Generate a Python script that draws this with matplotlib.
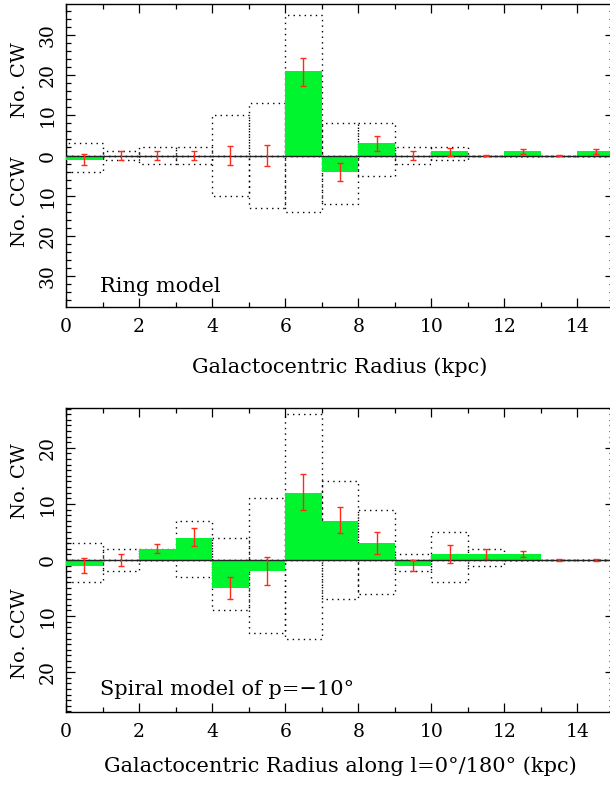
import matplotlib
matplotlib.use("Agg")
import matplotlib.pyplot as plt
import numpy as np
from matplotlib.ticker import MultipleLocator, FuncFormatter

# ---------------- data ----------------
bins_left = np.arange(0, 15)          # 1-kpc bins from 0 to 15 kpc

# Ring model (top panel)
ring_net = [-1, 0, 0, 0, 0, 0, 21, -4, 3, 0, 1, 0, 1, 0, 1]
ring_err_center = [-1.05, 0, 0, 0, 0, 0, 20.85, -4, 2.95, 0, 0.95, 0, 1, 0, 1]
ring_err = [1.35, 1.0, 1.1, 1.1, 2.3, 2.6, 3.55, 2.25, 1.85, 1.0, 0.95, 0.1, 0.6, 0.1, 0.6]
ring_cw = [3, 1, 2, 2, 10, 13, 35, 8, 8, 2, 2, 0, 0, 0, 0]
ring_ccw = [4, 1, 2, 2, 10, 13, 14, 12, 5, 2, 1, 0, 0, 0, 0]

# Spiral model p=-10 (bottom panel)
spiral_net = [-1, 0, 2, 4, -5, -2, 12, 7, 3, -1, 1, 1, 1, 0, 0]
spiral_err_center = [-0.95, 0.05, 2.1, 4.1, -5.0, -1.95, 12.1, 7.1, 3.05, -0.95, 1.04, 1.07, 1.05, 0, 0]
spiral_err = [1.37, 1.05, 0.77, 1.6, 1.9, 2.47, 3.2, 2.35, 1.96, 0.98, 1.58, 0.9, 0.5, 0.1, 0.1]
spiral_cw = [3, 2, 2, 7, 4, 11, 26, 14, 9, 1, 5, 2, 0, 0, 0]
spiral_ccw = [4, 2, 0, 3, 9, 13, 14, 7, 6, 2, 4, 1, 0, 0, 0]

xticks = [0, 2, 4, 6, 8, 10, 12, 14]

GREEN = "#00f52e"
RED = "#ff2a1a"
FONT = "DejaVu Serif"

W, H = 610, 785
fig = plt.figure(figsize=(W / 100, H / 100), dpi=100)


def make_panel(rect_px, net, ec, err, cw, ccw, ylim, ymajor, yminor, label, xlabel, label_y, lpad):
    x0, y0, x1, y1 = rect_px
    ax = fig.add_axes([x0 / W, 1 - y1 / H, (x1 - x0) / W, (y1 - y0) / H])
    centers = bins_left + 0.5
    ax.bar(centers, cw, width=1.0, fill=False, edgecolor="black", linestyle=(0, (1, 3)), linewidth=1.0, zorder=2)
    ax.bar(centers, -np.array(ccw), width=1.0, fill=False, edgecolor="black", linestyle=(0, (1, 3)), linewidth=1.0, zorder=2)
    ax.bar(centers, net, width=1.0, color=GREEN, edgecolor="none", zorder=3)
    ax.axhline(0, color="#222222", linewidth=1.0, zorder=4)
    ax.errorbar(centers, ec, yerr=err, fmt="none", ecolor=RED, elinewidth=1.0, capsize=2.5, capthick=1.0, zorder=5)
    ax.set_xlim(0, 15)
    ax.set_ylim(-ylim, ylim)
    ax.xaxis.set_major_locator(MultipleLocator(2))
    ax.xaxis.set_minor_locator(MultipleLocator(1))
    ax.yaxis.set_major_locator(MultipleLocator(ymajor))
    ax.yaxis.set_minor_locator(MultipleLocator(yminor))
    ax.set_xticks(xticks)
    ax.yaxis.set_major_formatter(FuncFormatter(lambda v, p: "%d" % abs(round(v))))
    ax.tick_params(which="both", direction="in", top=True, right=True, labelsize=13.5)
    ax.tick_params(which="major", length=6.5, width=0.9)
    ax.tick_params(which="minor", length=3.5, width=0.9)
    ax.tick_params(axis="x", pad=8)
    ax.tick_params(axis="y", pad=7)
    for t in ax.get_yticklabels():
        t.set_rotation(90)
        t.set_va("center")
        t.set_family(FONT)
    for t in ax.get_xticklabels():
        t.set_family(FONT)
    for s in ax.spines.values():
        s.set_linewidth(1.0)
    ax.text(0.062, label_y, label, transform=ax.transAxes, fontsize=15, family=FONT, ha="left", va="baseline")
    ax.set_xlabel(xlabel, fontsize=15, family=FONT, labelpad=lpad)
    return ax


ax1 = make_panel((66, 4, 614, 307), ring_net, ring_err_center, ring_err, ring_cw, ring_ccw,
                 37.8, 10, 2, "Ring model", "Galactocentric Radius (kpc)", 0.048, 15)
ax2 = make_panel((66, 408, 614, 712), spiral_net, spiral_err_center, spiral_err, spiral_cw, spiral_ccw,
                 27.1, 10, 1, "Spiral model of p=\u221210\u00b0",
                 "Galactocentric Radius along l=0\u00b0/180\u00b0 (kpc)", 0.055, 11)

# y labels: CW and CCW
for ycw, yccw in [(80, 202), (481, 634)]:
    fig.text(20 / W, 1 - ycw / H, "No. CW", rotation=90, ha="center", va="center", fontsize=14, family=FONT)
    fig.text(20 / W, 1 - yccw / H, "No. CCW", rotation=90, ha="center", va="center", fontsize=14, family=FONT)

fig.savefig("out.png", dpi=100)
